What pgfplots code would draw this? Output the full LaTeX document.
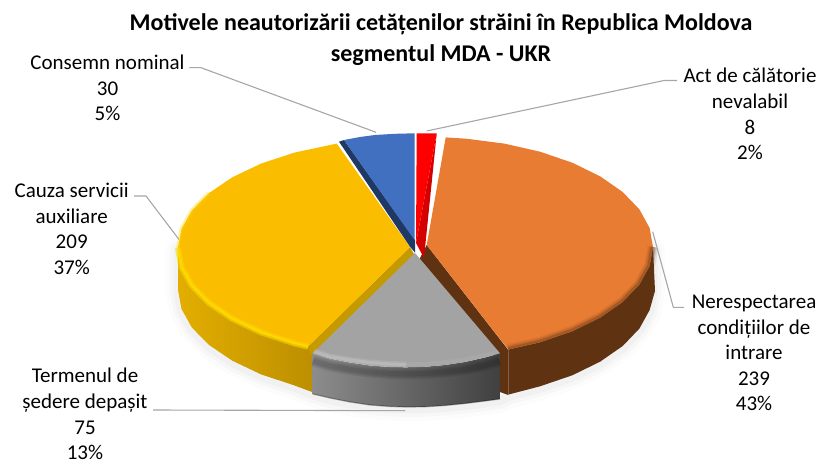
\documentclass[border=0pt]{standalone}
\usepackage{pgfplots}
\usepackage{pgfplotstable}
\usepackage{fontspec}
\setmainfont{Carlito}
\pgfplotsset{compat=1.18}
\definecolor{leader}{HTML}{A6A6A6}
\definecolor{HTMLbrown}{HTML}{5F3212}
\definecolor{HTMLgoldL}{HTML}{E3AE00}
\definecolor{HTMLgoldR}{HTML}{BD8F00}
\definecolor{HTMLgoldCut}{HTML}{C49A00}
\definecolor{HTMLgoldT}{HTML}{FBBD00}
\definecolor{HTMLgoldB}{HTML}{FFD400}
\definecolor{HTMLgoldH}{HTML}{FFE300}
\definecolor{HTMLgrayL}{HTML}{8C8C8C}
\definecolor{HTMLgrayR}{HTML}{404040}
\definecolor{HTMLgrayT}{HTML}{A3A3A3}
\definecolor{HTMLorange}{HTML}{E87C33}
\definecolor{HTMLnavy}{HTML}{1F3864}
\definecolor{HTMLblue}{HTML}{4170C0}
\definecolor{HTMLredD}{HTML}{D40000}
\pgfplotstableread{
x y
178 250
178 292
181.5 311
191.9 329.6
209.1 347
232.3 362.7
260.8 376.3
294 387.3
312 394.7
330 400
350 404
370 407
390 408.5
406 409
425 408.8
445 407.5
465 405.5
485 403
500 401
508.3 396.6
540 388.3
572.3 377.3
600.1 363.7
622.7 348
639.4 330.6
649.6 312.1
653 293
653 250
}\silhouette
\pgfplotstableread{
x y
178 248
181.5 267.1
191.9 285.6
209.1 303
232.3 318.7
260.8 332.3
294 343.3
308 346.7
}\yellowrim
\pgfplotstableread{
x y
653 247
649.6 266.1
639.4 284.6
622.7 302
600.1 317.7
572.3 331.3
540 342.3
508.3 349.6
}\orangerim
\pgfplotstableread{
x y
314 351.5
330 356.5
350 360
370 362.5
390 364
406 364.5
}\grayrimL
\pgfplotstableread{
x y
406 364.5
425 364
445 362.2
465 359.5
485 355.5
498 352
}\grayrimR
\pgfplotstableread{
x y
313 361
330 366
350 369.5
370 372
390 373.5
406 374
425 373.5
445 372
465 369.5
485 365.5
499.5 361
}\grayband
\begin{document}
\begin{tikzpicture}[x=1pt,y=1pt]
\useasboundingbox (0,0) rectangle (821,462);
\begin{axis}[at={(0,0)},anchor=south west,scale only axis,width=821pt,height=462pt,
  xmin=0,xmax=821,ymin=0,ymax=462,y dir=reverse,hide axis,clip=false,
  every axis plot/.append style={no marks,line join=round,line cap=butt}]
% soft shadow
\addplot[line width=24pt,black,opacity=.012,line cap=round] table {\silhouette};
\addplot[line width=16pt,black,opacity=.018,line cap=round] table {\silhouette};
\addplot[line width=9pt,black,opacity=.025,line cap=round] table {\silhouette};
% side faces and cuts
\addplot[draw=none,fill=HTMLbrown] coordinates {(653,247)(649.6,266.1)(639.4,284.6)(622.7,302)(600.1,317.7)(572.3,331.3)(540,342.3)(508.3,349.6)(508.3,394.6)(540,386.3)(572.3,375.3)(600.1,361.7)(622.7,346)(639.4,328.6)(649.6,310.1)(655,291)} --cycle;
\addplot[draw=none,fill=HTMLbrown] coordinates {(426.7,245)(508.3,350)(508.3,395)(500,392)(495,353.3)(418,262)} --cycle;
\addplot[draw=none,left color=HTMLgoldL,right color=HTMLgoldR] coordinates {(178,248)(181.5,267.1)(191.9,285.6)(209.1,303)(232.3,318.7)(260.8,332.3)(294,343.3)(312,347.7)(312,392)(294,385.3)(260.8,374.3)(232.3,360.7)(209.1,345)(191.9,327.6)(181.5,309)(178,290)} --cycle;
\addplot[draw=none,fill=HTMLgoldCut] coordinates {(410,247)(415,256)(410,266)(318,358)(312.7,356)(307.7,346.7)} --cycle;
\addplot[draw=none,left color=HTMLgrayL,right color=HTMLgrayR] coordinates {(312.7,353.3)(330,358.5)(350,362.5)(370,365.5)(390,367)(406,367.3)(425,366.8)(445,365)(465,362)(485,357.5)(500,353.3)(500,399)(485,401)(465,403.5)(445,405.5)(425,406.8)(406,407)(390,406.5)(370,405)(350,402)(330,398)(312.7,394)} --cycle;
\addplot[line width=1.2pt,black,opacity=.3] coordinates {(312.7,394)(330,398)(350,402)(370,405)(390,406.5)(406,407)(425,406.8)(445,405.5)(465,403.5)(485,401)(500,399)};
% top faces
\addplot[draw=none,fill=HTMLgoldT] coordinates {(410,247)(336.7,143.6)(294,152.7)(260.8,163.7)(232.3,177.3)(209.1,193)(191.9,210.4)(181.5,228.9)(178,248)(181.5,267.1)(191.9,285.6)(209.1,303)(232.3,318.7)(260.8,332.3)(294,343.3)(308,346.7)} --cycle;
\addplot[draw=none,fill=HTMLorange] coordinates {(426.7,245)(445.7,137.4)(466.3,138.7)(504.3,143.6)(540,151.7)(572.3,162.7)(600.1,176.3)(622.7,192)(639.4,209.4)(649.6,227.9)(653,247)(649.6,266.1)(639.4,284.6)(622.7,302)(600.1,317.7)(572.3,331.3)(540,342.3)(508.3,349.6)} --cycle;
\addplot[draw=none,fill=HTMLnavy] coordinates {(339,141.7)(344,140)(415,240)(415,252.7)(410,246.7)} --cycle;
\addplot[draw=none,fill=HTMLblue] coordinates {(344,140)(360,137)(375,135)(395,133.8)(414.5,133.3)(414.5,240)} --cycle;
\addplot[draw=none,fill=HTMLredD] coordinates {(436.7,133.5)(424,258)(416,243)} --cycle;
\addplot[draw=none,fill=red] coordinates {(416.7,133.3)(436.7,133.5)(416,243)} --cycle;
\addplot[draw=none,fill=HTMLgrayT] coordinates {(415,253)(500,353.3)(485,357.5)(465,362)(445,365)(425,366.8)(406,367.3)(390,367)(370,365.5)(350,362.5)(330,358.5)(312.7,353.3)} --cycle;
% bevels
\addplot[line width=11pt,HTMLbrown,opacity=.10] table {\orangerim};
\addplot[line width=8pt,HTMLbrown,opacity=.16] table {\orangerim};
\addplot[line width=5pt,HTMLbrown,opacity=.3] table {\orangerim};
\addplot[line width=4pt,HTMLgoldB,opacity=.35] coordinates {(209.1,193)(191.9,210.4)(181.5,228.9)(178,248)};
\addplot[line width=6pt,HTMLgoldB,opacity=.6] table {\yellowrim};
\addplot[line width=2.5pt,HTMLgoldH,opacity=.6] table {\yellowrim};
\addplot[line width=11pt,black,opacity=.07] table {\grayband};
\addplot[line width=8pt,black,opacity=.08] table {\grayband};
\addplot[line width=5pt,black,opacity=.08] table {\grayband};
\addplot[line width=6pt,white,opacity=.10] table {\grayrimL};
\addplot[line width=3pt,white,opacity=.15] table {\grayrimL};
\addplot[line width=4pt,white,opacity=.06] table {\grayrimR};
% leaders
\addplot[leader,line width=1.1pt] coordinates {(189.3,67.7)(201,67.7)(376,132.3)};
\addplot[leader,line width=1.1pt] coordinates {(426.7,131)(664,80.5)(677,80.5)};
\addplot[leader,line width=1.1pt] coordinates {(134,196)(146,196)(179,239.5)};
\addplot[leader,line width=1.1pt] coordinates {(652.7,231.7)(673.3,307.3)(684,307.3)};
\addplot[leader,line width=1.1pt] coordinates {(153,410)(405,410.7)};
% text
\node[align=center,font=\fontsize{24}{31}\bfseries\selectfont] at (axis cs:441,40) {Motivele neautorizării cetățenilor străini în Republica Moldova\\segmentul MDA - UKR};
\node[align=center,font=\fontsize{21}{25.6}\selectfont] at (axis cs:107.5,88) {Consemn nominal\\30\\5\%};
\node[align=center,font=\fontsize{21}{25.6}\selectfont] at (axis cs:71.7,229) {Cauza servicii\\auxiliare\\209\\37\%};
\node[align=center,font=\fontsize{21}{25.6}\selectfont] at (axis cs:750,114) {Act de călătorie\\nevalabil\\8\\2\%};
\node[align=center,font=\fontsize{21}{25.6}\selectfont] at (axis cs:754,353) {Nerespectarea\\condițiilor de\\intrare\\239\\43\%};
\node[align=center,font=\fontsize{21}{25.6}\selectfont] at (axis cs:85,414) {Termenul de\\ședere depașit\\75\\13\%};
\end{axis}
\end{tikzpicture}
\end{document}
